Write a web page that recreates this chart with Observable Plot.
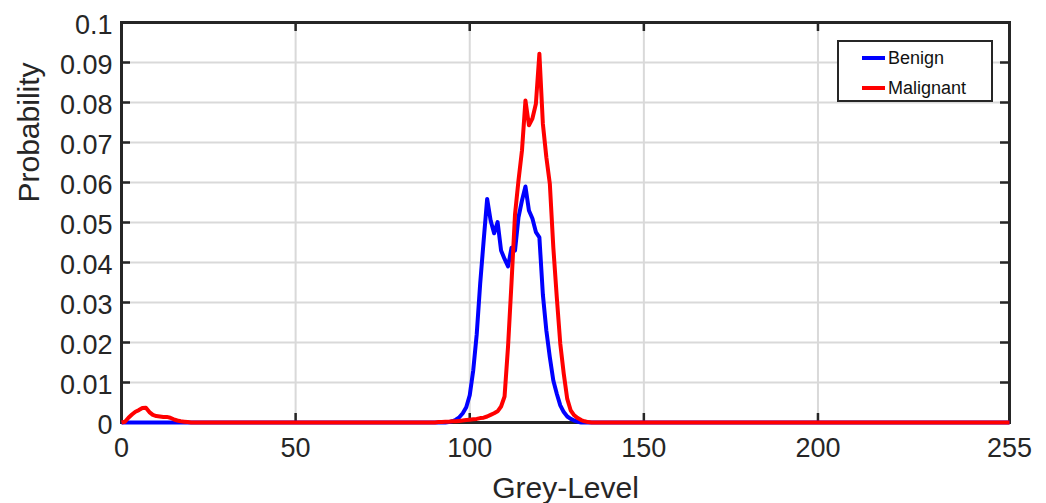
<!DOCTYPE html>
<html>
<head>
<meta charset="utf-8">
<script src="https://cdn.jsdelivr.net/npm/d3@7"></script>
<script src="https://cdn.jsdelivr.net/npm/@observablehq/plot@0.6"></script>
<style>
  html, body { margin: 0; padding: 0; background: #fff; }
  #wrap { position: relative; width: 1046px; height: 503px; overflow: hidden; }
  #legend { position: absolute; left: 837px; top: 40px; width: 152px; height: 58px;
    border: 2.5px solid #262626; background: #fff; font-family: "Liberation Sans", Arial, sans-serif; }
  .entry { position: absolute; left: 23px; height: 20px; display: flex; align-items: center;
    font-size: 18px; color: #111; }
  .swatch { width: 23px; height: 4px; margin-right: 3px; }
</style>
</head>
<body>
<div id="wrap"></div>
<script>
// ---- data ----
const seriesNames = ["Benign", "Malignant"];
const seriesColors = ["#0000ff", "#ff0000"];

const greyLevels = [
  0, 1, 2, 3, 4, 5, 6, 7, 8, 9, 10, 11, 12, 13, 14, 15, 16, 17, 18, 19, 20,
  88, 89, 90, 91, 92, 93, 94, 95, 96, 97, 98, 99, 100, 101, 102, 103, 104, 105,
  106, 107, 108, 109, 110, 111, 112, 113, 114, 115, 116, 117, 118, 119, 120,
  121, 122, 123, 124, 125, 126, 127, 128, 129, 130, 131, 132, 133, 134, 135, 136, 255
];

const benign = [
  0, 0, 0, 0, 0, 0, 0, 0, 0, 0, 0, 0, 0, 0, 0, 0, 0, 0, 0, 0, 0,
  0, 0, 0, 0, 0, 0, 0.0001, 0.0003, 0.0007, 0.0013, 0.0023, 0.0038, 0.0068, 0.013, 0.022, 0.0347, 0.0455, 0.0559,
  0.0505, 0.0473, 0.0501, 0.043, 0.0409, 0.039, 0.0437, 0.043, 0.0513, 0.0555, 0.059, 0.053, 0.051, 0.0476, 0.0463,
  0.032, 0.023, 0.0163, 0.0105, 0.0072, 0.0043, 0.0026, 0.0015, 0.0009, 0.0005, 0.0002, 0, 0, 0, 0, 0, 0
];

const malignant = [
  0, 0.0002, 0.0012, 0.002, 0.0027, 0.0031, 0.0036, 0.0037, 0.0026, 0.0019, 0.0016, 0.0015, 0.0014, 0.0014, 0.0012, 0.0008, 0.0005, 0.0003, 0.0002, 0.0001, 0,
  0, 0, 0, 0.0001, 0.0001, 0.0002, 0.0002, 0.0003, 0.0003, 0.0004, 0.0005, 0.0006, 0.0007, 0.0008, 0.0009, 0.0011, 0.0012, 0.0015,
  0.0019, 0.0023, 0.0028, 0.004, 0.0065, 0.019, 0.035, 0.052, 0.0605, 0.068, 0.0805, 0.0743, 0.076, 0.0797, 0.0922,
  0.0747, 0.0663, 0.0597, 0.0438, 0.0313, 0.0197, 0.0122, 0.0059, 0.003, 0.0018, 0.0011, 0.0006, 0.0003, 0.0001, 0, 0, 0
];

const xTicks = [0, 50, 100, 150, 200, 255];
const xGrid = [50, 100, 150, 200];
const yTicks = [0, 0.01, 0.02, 0.03, 0.04, 0.05, 0.06, 0.07, 0.08, 0.09, 0.1];
const xLabel = "Grey-Level";
const yLabel = "Probability";

// ---- build table ----
const seriesValues = [benign, malignant];
const rows = [];
seriesNames.forEach((name, s) => {
  greyLevels.forEach((g, i) => rows.push({series: name, grey: g, p: seriesValues[s][i]}));
});

const axisColor = "#262626";
const innerW = 888, innerH = 400, tickLen = 9;

const chart = Plot.plot({
  width: 1046,
  height: 503,
  marginLeft: 121,
  marginRight: 37,
  marginTop: 22,
  marginBottom: 81,
  style: {fontFamily: '"Liberation Sans", Arial, sans-serif', background: "#fff"},
  x: {domain: [0, 255]},
  y: {domain: [0, 0.1]},
  color: {domain: seriesNames, range: seriesColors},
  marks: [
    Plot.gridX(xGrid, {stroke: "#d9d9d9", strokeOpacity: 1, strokeWidth: 2}),
    Plot.gridY(yTicks.slice(1, -1), {stroke: "#d9d9d9", strokeOpacity: 1, strokeWidth: 2}),
    Plot.frame({stroke: axisColor, strokeWidth: 3}),
    // inward tick marks
    Plot.tickY(yTicks, {y: d => d, stroke: axisColor, strokeWidth: 2.5, insetRight: innerW - tickLen}),
    Plot.tickY(yTicks, {y: d => d, stroke: axisColor, strokeWidth: 2.5, insetLeft: innerW - tickLen}),
    Plot.tickX(xTicks, {x: d => d, stroke: axisColor, strokeWidth: 2.5, insetTop: innerH - tickLen}),
    Plot.tickX(xTicks, {x: d => d, stroke: axisColor, strokeWidth: 2.5, insetBottom: innerH - tickLen}),
    Plot.axisX({ticks: xTicks, tickSize: 0, tickPadding: 15, fontSize: 27, fill: axisColor, label: null, tickFormat: d => `${d}`}),
    Plot.axisY({ticks: yTicks, tickSize: 0, tickPadding: 9, fontSize: 27, fill: axisColor, label: null, dy: 3, tickFormat: d => `${d}`}),
    Plot.text([xLabel], {text: d => d, frameAnchor: "bottom", lineAnchor: "middle", dy: 66, fontSize: 30, fill: axisColor}),
    Plot.text([yLabel], {text: d => d, frameAnchor: "left", lineAnchor: "middle", rotate: -90, dx: -92, dy: -20, fontSize: 30, fill: axisColor}),
    Plot.line(rows, {x: "grey", y: "p", z: "series", stroke: "series", strokeWidth: 4, strokeLinejoin: "round", strokeLinecap: "butt"})
  ]
});

const wrap = document.getElementById("wrap");
wrap.appendChild(chart);

// legend (inside plot area, top right)
const legend = document.createElement("div");
legend.id = "legend";
seriesNames.forEach((name, i) => {
  const e = document.createElement("div");
  e.className = "entry";
  e.style.top = (i === 0 ? 6 : 36) + "px";
  const sw = document.createElement("span");
  sw.className = "swatch";
  sw.style.background = seriesColors[i];
  e.appendChild(sw);
  e.appendChild(document.createTextNode(name));
  legend.appendChild(e);
});
wrap.appendChild(legend);
</script>
</body>
</html>
